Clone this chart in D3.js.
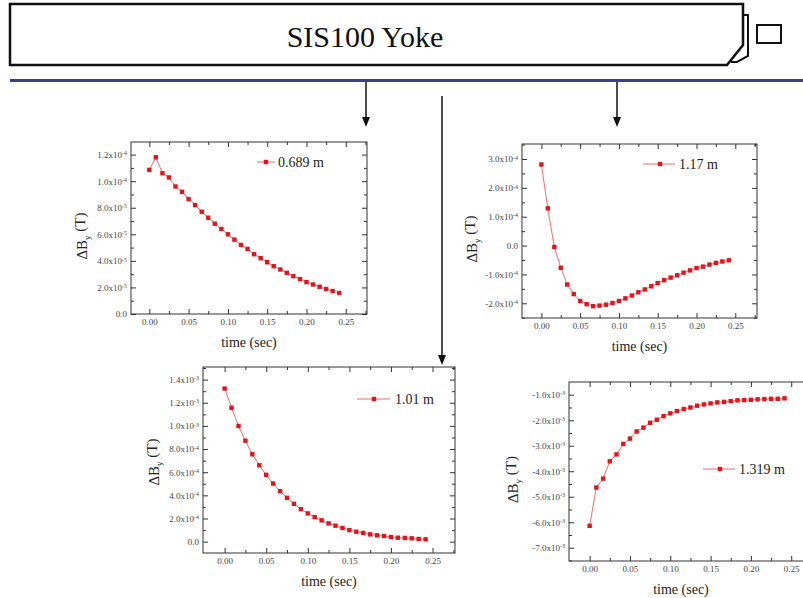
<!DOCTYPE html>
<html><head><meta charset="utf-8">
<script src="https://cdn.jsdelivr.net/npm/d3@7"></script>
<style>body{margin:0;background:#fff;overflow:hidden}svg{display:block}</style>
</head><body>
<svg id="c" width="803" height="598"></svg>
<script>
// ---------- data ----------
const time = [0, 0.0083, 0.0167, 0.025, 0.0333, 0.0417, 0.05, 0.0583, 0.0667, 0.075,
  0.0833, 0.0917, 0.1, 0.1083, 0.1167, 0.125, 0.1333, 0.1417, 0.15, 0.1583,
  0.1667, 0.175, 0.1833, 0.1917, 0.2, 0.2083, 0.2167, 0.225, 0.2333, 0.2417];

const dBy_0689 = [1.085e-4, 1.18e-4, 1.06e-4, 1.028e-4, 9.6e-5, 9.2e-5, 8.65e-5, 8.2e-5, 7.7e-5, 7.25e-5,
  6.8e-5, 6.4e-5, 6.0e-5, 5.6e-5, 5.2e-5, 4.9e-5, 4.5e-5, 4.2e-5, 3.9e-5, 3.6e-5,
  3.35e-5, 3.1e-5, 2.85e-5, 2.63e-5, 2.4e-5, 2.22e-5, 2.05e-5, 1.88e-5, 1.73e-5, 1.58e-5];

const dBy_117 = [2.81e-4, 1.29e-4, -0.05e-4, -0.77e-4, -1.35e-4, -1.68e-4, -1.92e-4, -2.03e-4, -2.10e-4, -2.08e-4,
  -2.05e-4, -1.99e-4, -1.92e-4, -1.83e-4, -1.73e-4, -1.62e-4, -1.52e-4, -1.41e-4, -1.30e-4, -1.20e-4,
  -1.11e-4, -1.03e-4, -0.94e-4, -0.86e-4, -0.78e-4, -0.73e-4, -0.66e-4, -0.60e-4, -0.55e-4, -0.51e-4];

const dBy_101 = [1.323e-3, 1.157e-3, 0.999e-3, 0.872e-3, 0.755e-3, 0.660e-3, 0.577e-3, 0.502e-3, 0.436e-3, 0.379e-3,
  0.327e-3, 0.281e-3, 0.244e-3, 0.212e-3, 0.184e-3, 0.158e-3, 0.138e-3, 0.118e-3, 0.100e-3, 0.086e-3,
  0.075e-3, 0.063e-3, 0.055e-3, 0.049e-3, 0.040e-3, 0.034e-3, 0.032e-3, 0.029e-3, 0.023e-3, 0.020e-3];

const dBy_1319 = [-6.14e-3, -4.64e-3, -4.29e-3, -3.61e-3, -3.34e-3, -2.93e-3, -2.72e-3, -2.44e-3, -2.29e-3, -2.10e-3,
  -1.98e-3, -1.84e-3, -1.73e-3, -1.64e-3, -1.56e-3, -1.50e-3, -1.43e-3, -1.38e-3, -1.34e-3, -1.30e-3,
  -1.28e-3, -1.25e-3, -1.22e-3, -1.21e-3, -1.20e-3, -1.18e-3, -1.17e-3, -1.16e-3, -1.16e-3, -1.14e-3];

const xTicks = [0, 0.05, 0.10, 0.15, 0.20, 0.25];
const xTickLabels = ["0.00", "0.05", "0.10", "0.15", "0.20", "0.25"];

const yTicks_0689 = [0, 2e-5, 4e-5, 6e-5, 8e-5, 1.0e-4, 1.2e-4];
const yLabels_0689 = ["0.0", "2.0x10^-5", "4.0x10^-5", "6.0x10^-5", "8.0x10^-5", "1.0x10^-4", "1.2x10^-4"];
const yTicks_117 = [-2e-4, -1e-4, 0, 1e-4, 2e-4, 3e-4];
const yLabels_117 = ["-2.0x10^-4", "-1.0x10^-4", "0.0", "1.0x10^-4", "2.0x10^-4", "3.0x10^-4"];
const yTicks_101 = [0, 2e-4, 4e-4, 6e-4, 8e-4, 1.0e-3, 1.2e-3, 1.4e-3];
const yLabels_101 = ["0.0", "2.0x10^-4", "4.0x10^-4", "6.0x10^-4", "8.0x10^-4", "1.0x10^-3", "1.2x10^-3", "1.4x10^-3"];
const yTicks_1319 = [-7e-3, -6e-3, -5e-3, -4e-3, -3e-3, -2e-3, -1e-3];
const yLabels_1319 = ["-7.0x10^-3", "-6.0x10^-3", "-5.0x10^-3", "-4.0x10^-3", "-3.0x10^-3", "-2.0x10^-3", "-1.0x10^-3"];

const seriesNames = ["0.689 m", "1.17 m", "1.01 m", "1.319 m"];

// ---------- layout ----------
const charts = [
  { name: seriesNames[0], values: dBy_0689, yTicks: yTicks_0689, yLabels: yLabels_0689,
    frame: [131, 142, 367, 314], xDomain: [-0.0233, 0.277], yDomain: [0, 1.295e-4],
    legend: { x1: 257, x2: 275, sq: 266, tx: 278, y: 162 }, ylabX: 87, ylabDy: 8 },
  { name: seriesNames[1], values: dBy_117, yTicks: yTicks_117, yLabels: yLabels_117,
    frame: [522, 144, 757, 318], xDomain: [-0.025, 0.278], yDomain: [-2.51e-4, 3.52e-4],
    legend: { x1: 643, x2: 675, sq: 660, tx: 679, y: 164 }, ylabX: 477, ylabDy: 8 },
  { name: seriesNames[2], values: dBy_101, yTicks: yTicks_101, yLabels: yLabels_101,
    frame: [203, 367, 455, 553], xDomain: [-0.026, 0.277], yDomain: [-0.98e-4, 1.509e-3],
    legend: { x1: 357, x2: 390, sq: 374, tx: 395, y: 399 }, ylabX: 159, ylabDy: 2 },
  { name: seriesNames[3], values: dBy_1319, yTicks: yTicks_1319, yLabels: yLabels_1319,
    frame: [569, 382, 813, 561], xDomain: [-0.0256, 0.277], yDomain: [-7.52e-3, -0.5e-3],
    legend: { x1: 703, x2: 735, sq: 720, tx: 739, y: 469 }, ylabX: 518, ylabDy: 8 }
];

const SERIF = "'Liberation Serif', 'Times New Roman', serif";
const svg = d3.select("#c");

// ---------- header ----------
svg.append("path")
  .attr("d", "M743,15 H748 V56 L737,62 H731")
  .attr("fill", "#fff").attr("stroke", "#111").attr("stroke-width", 2).attr("stroke-linejoin", "miter");
svg.append("path")
  .attr("d", "M10,4 H743 V45 L727,65 H10 Z")
  .attr("fill", "#fff").attr("stroke", "#111").attr("stroke-width", 2.5);
svg.append("rect").attr("x", 757).attr("y", 25).attr("width", 24).attr("height", 18)
  .attr("fill", "#fff").attr("stroke", "#111").attr("stroke-width", 2);
svg.append("text").attr("x", 365).attr("y", 47).attr("text-anchor", "middle")
  .attr("font-family", SERIF).attr("font-size", 30).attr("fill", "#111").text("SIS100 Yoke");
svg.append("line").attr("x1", 10).attr("x2", 803).attr("y1", 80.5).attr("y2", 80.5)
  .attr("stroke", "#3d3d9c").attr("stroke-width", 3);

// ---------- arrows ----------
function arrow(x, yA, yB) {
  svg.append("line").attr("x1", x).attr("x2", x).attr("y1", yA).attr("y2", yB - 8)
    .attr("stroke", "#111").attr("stroke-width", 1.5);
  svg.append("path").attr("d", `M${x - 4},${yB - 10} L${x + 4},${yB - 10} L${x},${yB} Z`).attr("fill", "#111");
}
arrow(366, 82, 127);
arrow(617, 82, 127);
arrow(442, 96, 365);

// ---------- charts ----------
function setLabel(sel, lab) {
  sel.each(function (d, i) {
    const t = d3.select(this);
    const s = lab(d, i);
    t.text(null);
    const parts = s.split("^");
    t.append("tspan").text(parts[0]);
    if (parts.length > 1) {
      t.append("tspan").attr("dy", "-0.45em").attr("font-size", "6px").text(parts[1]);
    }
  });
}

function drawChart(c) {
  const [x0, y0, x1, y1] = c.frame;
  const x = d3.scaleLinear().domain(c.xDomain).range([x0, x1]);
  const y = d3.scaleLinear().domain(c.yDomain).range([y1, y0]);
  const g = svg.append("g");

  const inX = v => v >= c.xDomain[0] && v <= c.xDomain[1];
  const inY = v => v >= c.yDomain[0] && v <= c.yDomain[1];
  const xMinor = [];
  for (let i = 0; i < xTicks.length; i++) {
    const m = xTicks[i] + 0.025; if (inX(m)) xMinor.push(m);
  }
  const yMinor = [];
  const step = c.yTicks[1] - c.yTicks[0];
  for (let i = -1; i < c.yTicks.length; i++) {
    const m = c.yTicks[0] + step * (i + 0.5); if (inY(m)) yMinor.push(m);
  }

  const styleAxis = a => {
    a.select(".domain").remove();
    a.selectAll("line").attr("stroke", "#333").attr("stroke-width", 1);
    a.selectAll("text").attr("font-family", SERIF).attr("font-size", 9).attr("fill", "#444");
  };

  // bottom
  const bx = g.append("g").attr("transform", `translate(0,${y1})`)
    .call(d3.axisBottom(x).tickValues(xTicks).tickSizeInner(-5).tickSizeOuter(0).tickPadding(5)
      .tickFormat((d, i) => xTickLabels[i]));
  styleAxis(bx);
  const bxm = g.append("g").attr("transform", `translate(0,${y1})`)
    .call(d3.axisBottom(x).tickValues(xMinor).tickSizeInner(-3).tickSizeOuter(0).tickFormat(""));
  styleAxis(bxm);
  // top
  const tx = g.append("g").attr("transform", `translate(0,${y0})`)
    .call(d3.axisTop(x).tickValues(xTicks).tickSizeInner(-5).tickSizeOuter(0).tickFormat(""));
  styleAxis(tx);
  const txm = g.append("g").attr("transform", `translate(0,${y0})`)
    .call(d3.axisTop(x).tickValues(xMinor).tickSizeInner(-3).tickSizeOuter(0).tickFormat(""));
  styleAxis(txm);
  // left
  const ly = g.append("g").attr("transform", `translate(${x0},0)`)
    .call(d3.axisLeft(y).tickValues(c.yTicks).tickSizeInner(-5).tickSizeOuter(0).tickPadding(4)
      .tickFormat((d, i) => c.yLabels[i]));
  styleAxis(ly);
  setLabel(ly.selectAll(".tick text"), (d, i) => c.yLabels[i]);
  const lym = g.append("g").attr("transform", `translate(${x0},0)`)
    .call(d3.axisLeft(y).tickValues(yMinor).tickSizeInner(-3).tickSizeOuter(0).tickFormat(""));
  styleAxis(lym);
  // right
  const ry = g.append("g").attr("transform", `translate(${x1},0)`)
    .call(d3.axisRight(y).tickValues(c.yTicks).tickSizeInner(-5).tickSizeOuter(0).tickFormat(""));
  styleAxis(ry);
  const rym = g.append("g").attr("transform", `translate(${x1},0)`)
    .call(d3.axisRight(y).tickValues(yMinor).tickSizeInner(-3).tickSizeOuter(0).tickFormat(""));
  styleAxis(rym);

  // frame
  g.append("rect").attr("x", x0).attr("y", y0).attr("width", x1 - x0).attr("height", y1 - y0)
    .attr("fill", "none").attr("stroke", "#333").attr("stroke-width", 1);

  // line + markers
  const pts = time.map((t, i) => [t, c.values[i]]);
  g.append("path").datum(pts)
    .attr("d", d3.line().x(d => x(d[0])).y(d => y(d[1])))
    .attr("fill", "none").attr("stroke", "#f05a5a").attr("stroke-width", 0.9);
  g.selectAll("rect.pt").data(pts).join("rect").attr("class", "pt")
    .attr("x", d => x(d[0]) - 2.2).attr("y", d => y(d[1]) - 2.2)
    .attr("width", 4.4).attr("height", 4.4).attr("fill", "#e3141c");

  // legend
  const L = c.legend;
  g.append("line").attr("x1", L.x1).attr("x2", L.x2).attr("y1", L.y).attr("y2", L.y)
    .attr("stroke", "#f05a5a").attr("stroke-width", 0.9);
  g.append("rect").attr("x", L.sq - 2.2).attr("y", L.y - 2.2).attr("width", 4.4).attr("height", 4.4).attr("fill", "#e3141c");
  g.append("text").attr("x", L.tx).attr("y", L.y + 5).attr("font-family", SERIF).attr("font-size", 14)
    .attr("fill", "#222").text(c.name);

  // axis titles
  g.append("text").attr("x", (x0 + x1) / 2 - (x1 > 803 ? 10 : 0)).attr("y", y1 + 33).attr("text-anchor", "middle")
    .attr("font-family", SERIF).attr("font-size", 14).attr("fill", "#222").text("time (sec)");
  const yl = g.append("text")
    .attr("transform", `translate(${c.ylabX},${(y0 + y1) / 2 + c.ylabDy}) rotate(-90)`)
    .attr("text-anchor", "middle").attr("font-family", SERIF).attr("font-size", 15).attr("fill", "#222");
  yl.append("tspan").text("\u0394B");
  yl.append("tspan").attr("dy", "0.35em").attr("font-size", "9px").text("y");
  yl.append("tspan").attr("dy", "-0.35em").text(" (T)");
}
charts.forEach(drawChart);
</script>
</body></html>
